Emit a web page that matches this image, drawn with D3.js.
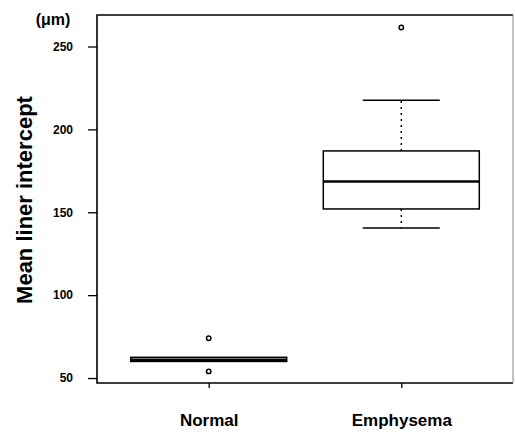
<!DOCTYPE html>
<html>
<head>
<meta charset="utf-8">
<script src="https://cdn.jsdelivr.net/npm/d3@7"></script>
<style>
  body { margin: 0; background: #fff; }
  svg { display: block; font-family: Arial, "Liberation Sans", sans-serif; }
</style>
</head>
<body>
<div id="chart"></div>
<script>
// box plot summaries
const groups = ["Normal", "Emphysema"]
const q1 = [60, 152]
const median = [61, 168.5]
const q3 = [62.5, 187]
const whiskerLow = [60, 140.5]
const whiskerHigh = [62.5, 217.5]
const outliers = [[74, 54], [261.5]]
const yTicks = [50, 100, 150, 200, 250]

const width = 515, height = 432
const margin = { top: 15, right: 2, bottom: 49, left: 97 }
const innerW = width - margin.left - margin.right
const innerH = height - margin.top - margin.bottom

const svg = d3.select("#chart").append("svg")
  .attr("width", width).attr("height", height)

const g = svg.append("g").attr("transform", `translate(${margin.left},${margin.top})`)

const x = d3.scalePoint().domain(groups).range([0, innerW]).padding(0.58)
const y = d3.scaleLinear().domain([47, 269]).range([innerH, 0])

const boxW = 156, capW = 77

// frame: solid left/bottom/top, lighter right edge
g.append("path")
  .attr("d", `M${innerW},0H0V${innerH}H${innerW}`)
  .attr("fill", "none").attr("stroke", "#000").attr("stroke-width", 1.6)
g.append("line")
  .attr("x1", innerW).attr("x2", innerW).attr("y1", 0).attr("y2", innerH)
  .attr("stroke", "#888").attr("stroke-width", 1)

// y axis
g.append("g")
  .call(d3.axisLeft(y).tickValues(yTicks).tickSize(9).tickPadding(15))
  .call(a => a.select(".domain").remove())
  .call(a => a.selectAll(".tick line").attr("stroke", "#000").attr("stroke-width", 1.3))
  .call(a => a.selectAll(".tick text").attr("font-size", 12).attr("font-weight", "bold").attr("fill", "#000"))

// x axis
g.append("g")
  .attr("transform", `translate(0,${innerH})`)
  .call(d3.axisBottom(x).tickSize(5).tickPadding(26))
  .call(a => a.select(".domain").remove())
  .call(a => a.selectAll(".tick line").attr("stroke", "#000").attr("stroke-width", 1.3))
  .call(a => a.selectAll(".tick text").attr("font-size", 17).attr("font-weight", "bold").attr("fill", "#000"))

groups.forEach((name, i) => {
  const cx = x(name)
  // dotted whiskers
  g.append("line")
    .attr("x1", cx).attr("x2", cx).attr("y1", y(q3[i])).attr("y2", y(whiskerHigh[i]))
    .attr("stroke", "#000").attr("stroke-width", 1.5).attr("stroke-dasharray", "2,4")
  g.append("line")
    .attr("x1", cx).attr("x2", cx).attr("y1", y(q1[i])).attr("y2", y(whiskerLow[i]))
    .attr("stroke", "#000").attr("stroke-width", 1.5).attr("stroke-dasharray", "2,4")
  // caps
  if (whiskerHigh[i] > q3[i]) {
    g.append("line")
      .attr("x1", cx - capW / 2).attr("x2", cx + capW / 2)
      .attr("y1", y(whiskerHigh[i])).attr("y2", y(whiskerHigh[i]))
      .attr("stroke", "#000").attr("stroke-width", 1.5)
  }
  if (whiskerLow[i] < q1[i]) {
    g.append("line")
      .attr("x1", cx - capW / 2).attr("x2", cx + capW / 2)
      .attr("y1", y(whiskerLow[i])).attr("y2", y(whiskerLow[i]))
      .attr("stroke", "#000").attr("stroke-width", 1.5)
  }
  // box
  g.append("rect")
    .attr("x", cx - boxW / 2).attr("width", boxW)
    .attr("y", y(q3[i])).attr("height", y(q1[i]) - y(q3[i]))
    .attr("fill", "#fff").attr("stroke", "#000").attr("stroke-width", 1.5)
  // median
  g.append("line")
    .attr("x1", cx - boxW / 2).attr("x2", cx + boxW / 2)
    .attr("y1", y(median[i])).attr("y2", y(median[i]))
    .attr("stroke", "#000").attr("stroke-width", 2.5)
  // outliers
  g.selectAll(null).data(outliers[i]).join("circle")
    .attr("cx", cx).attr("cy", d => y(d)).attr("r", 2.2)
    .attr("fill", "#fff").attr("stroke", "#000").attr("stroke-width", 1.5)
})

// axis titles
svg.append("text")
  .attr("transform", `translate(32,200) rotate(-90)`)
  .attr("text-anchor", "middle")
  .attr("font-size", 22).attr("font-weight", "bold")
  .text("Mean liner intercept")

svg.append("text")
  .attr("x", 53).attr("y", 25)
  .attr("text-anchor", "middle")
  .attr("font-size", 16).attr("font-weight", "bold")
  .text("(μm)")
</script>
</body>
</html>
